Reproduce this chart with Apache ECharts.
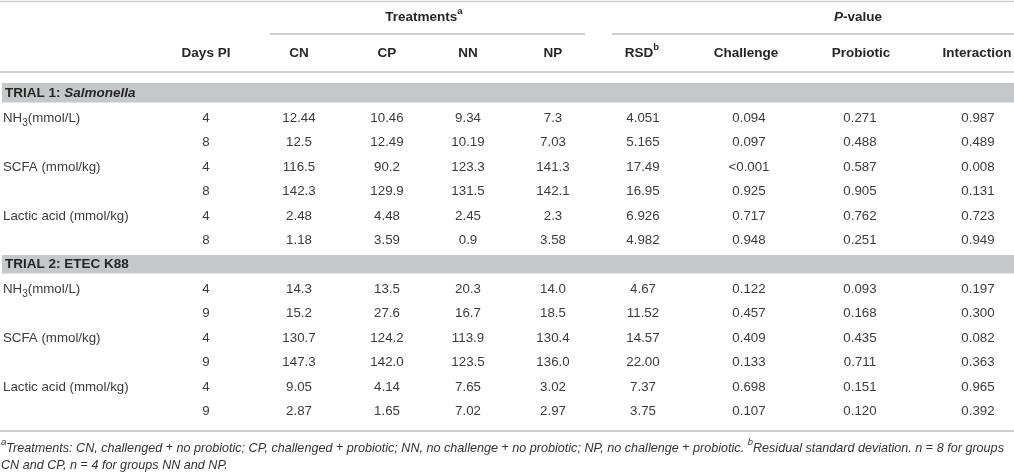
<!DOCTYPE html>
<html>
<head>
<meta charset="utf-8">
<script src="https://cdn.jsdelivr.net/npm/echarts@6/dist/echarts.min.js"></script>
<style>
  html, body { margin: 0; padding: 0; background: #fff; }
  #main { width: 1014px; height: 474px; }
</style>
</head>
<body>
<div id="main"></div>
<script>
// column headers
const treatCols = ['CN', 'CP', 'NN', 'NP']
const pCols = ['Challenge', 'Probiotic', 'Interaction']
const measures = ['NH{sub|3}(mmol/L)', 'SCFA (mmol/kg)', 'Lactic acid (mmol/kg)']

// trial 1: Salmonella
const trial1Days = ['4', '8', '4', '8', '4', '8']
const trial1Rows = [
  ['12.44', '10.46', '9.34', '7.3', '4.051', '0.094', '0.271', '0.987'],
  ['12.5', '12.49', '10.19', '7.03', '5.165', '0.097', '0.488', '0.489'],
  ['116.5', '90.2', '123.3', '141.3', '17.49', '<0.001', '0.587', '0.008'],
  ['142.3', '129.9', '131.5', '142.1', '16.95', '0.925', '0.905', '0.131'],
  ['2.48', '4.48', '2.45', '2.3', '6.926', '0.717', '0.762', '0.723'],
  ['1.18', '3.59', '0.9', '3.58', '4.982', '0.948', '0.251', '0.949']
]

// trial 2: ETEC K88
const trial2Days = ['4', '9', '4', '9', '4', '9']
const trial2Rows = [
  ['14.3', '13.5', '20.3', '14.0', '4.67', '0.122', '0.093', '0.197'],
  ['15.2', '27.6', '16.7', '18.5', '11.52', '0.457', '0.168', '0.300'],
  ['130.7', '124.2', '113.9', '130.4', '14.57', '0.409', '0.435', '0.082'],
  ['147.3', '142.0', '123.5', '136.0', '22.00', '0.133', '0.711', '0.363'],
  ['9.05', '4.14', '7.65', '3.02', '7.37', '0.698', '0.151', '0.965'],
  ['2.87', '1.65', '7.02', '2.97', '3.75', '0.107', '0.120', '0.392']
]

const footLine1 = '{sup|a}Treatments: CN, challenged {n|+} no probiotic; CP, challenged {n|+} probiotic; NN, no challenge {n|+} no probiotic; NP, no challenge {n|+} probiotic. {sup|b}Residual standard deviation. n {n|=} 8 for groups'
const footLine2 = 'CN and CP, n {n|=} 4 for groups NN and NP.'

// layout (pixels, through the hidden value axes)
const FONT = "'Liberation Sans', Arial, sans-serif"
const daysX = 206
const headX = [299, 387, 468, 553, 642, 746, 861, 977]
const valX = [299, 387, 468, 553, 643, 749, 860, 978]
const rowStep = 24.5
const trial1Y = 118
const trial2Y = 289

const cells = []
function add(x, y, text, kind, align) {
  cells.push({ x: x, y: y, text: text, kind: kind, align: align || 'center' })
}

// header
add(424, 17, 'Treatments{sup|a}', 'head')
add(858, 17, '{i|P}-value', 'head')
add(daysX, 53, 'Days PI', 'head')
treatCols.forEach((c, i) => add(headX[i], 53, c, 'head'))
add(headX[4], 53, 'RSD{sup|b}', 'head')
pCols.forEach((c, i) => add(headX[5 + i], 53, c, 'head'))

// body
add(5, 93, 'TRIAL 1: {bi|Salmonella}', 'head', 'left')
add(5, 264, 'TRIAL 2: ETEC K88', 'head', 'left')
;[[trial1Y, trial1Days, trial1Rows], [trial2Y, trial2Days, trial2Rows]].forEach(t => {
  t[2].forEach((row, r) => {
    const y = t[0] + r * rowStep
    if (r % 2 === 0) add(3, y, measures[r / 2], 'body', 'left')
    add(daysX, y, t[1][r], 'body')
    row.forEach((v, c) => add(valX[c], y, v, 'body'))
  })
})

add(1, 448, footLine1, 'foot', 'left')
add(1, 465, footLine2, 'foot', 'left')

// rules: [y, x1, x2, width]
const rules = [
  [1.5, 0, 1014, 1.5],
  [34, 270, 585, 2],
  [34, 612, 1014, 2],
  [72, 0, 1014, 2],
  [431, 0, 1014, 2]
]
// shaded bands: [y1, y2]
const bands = [
  [83, 102.5],
  [255, 273.5]
]

const richBase = {
  sub: { fontSize: 10, verticalAlign: 'bottom', padding: [0, 0, -4, 0] },
  sup: { fontSize: 9.5, verticalAlign: 'top', padding: [-4, 0, 0, 0] },
  i: { fontStyle: 'italic' },
  bi: { fontStyle: 'italic', fontWeight: 'bold' },
  n: { fontStyle: 'normal' }
}

function styleFor(kind) {
  if (kind === 'head') return { fontSize: 13.5, fontWeight: 'bold', fill: '#262626' }
  if (kind === 'foot') return { fontSize: 12.6, fontStyle: 'italic', fill: '#333' }
  return { fontSize: 13.3, fontWeight: 'normal', fill: '#3c3c3c' }
}

const chart = echarts.init(document.getElementById('main'))
chart.setOption({
  animation: false,
  grid: { left: 0, right: 0, top: 0, bottom: 0 },
  xAxis: { type: 'value', min: 0, max: 1014, show: false },
  yAxis: { type: 'value', min: 0, max: 474, inverse: true, show: false },
  series: [
    {
      type: 'custom',
      coordinateSystem: 'cartesian2d',
      data: bands.map(b => [0, b[0], 1014, b[1]]),
      renderItem: (params, api) => {
        const p1 = api.coord([api.value(0), api.value(1)])
        const p2 = api.coord([api.value(2), api.value(3)])
        return {
          type: 'rect',
          shape: { x: p1[0] + 2, y: p1[1], width: p2[0] - p1[0] - 2, height: p2[1] - p1[1] },
          style: { fill: '#c6c7c9' }
        }
      }
    },
    {
      type: 'custom',
      coordinateSystem: 'cartesian2d',
      data: rules.map(r => [r[1], r[0], r[2], r[3]]),
      renderItem: (params, api) => {
        const p1 = api.coord([api.value(0), api.value(1)])
        const p2 = api.coord([api.value(2), api.value(1)])
        return {
          type: 'line',
          shape: { x1: p1[0], y1: p1[1], x2: p2[0], y2: p2[1] },
          style: { stroke: '#cfcfcf', lineWidth: api.value(3) }
        }
      }
    },
    {
      type: 'custom',
      coordinateSystem: 'cartesian2d',
      data: cells.map(c => [c.x, c.y]),
      renderItem: (params, api) => {
        const c = cells[params.dataIndex]
        const p = api.coord([api.value(0), api.value(1)])
        const s = styleFor(c.kind)
        const rich = {}
        Object.keys(richBase).forEach(k => {
          rich[k] = Object.assign({
            fill: s.fill,
            fontFamily: FONT,
            fontSize: s.fontSize,
            fontWeight: s.fontWeight || 'normal',
            fontStyle: s.fontStyle || 'normal'
          }, richBase[k])
        })
        return {
          type: 'text',
          x: p[0],
          y: p[1],
          style: {
            text: c.text,
            fontFamily: FONT,
            fontSize: s.fontSize,
            fontWeight: s.fontWeight || 'normal',
            fontStyle: s.fontStyle || 'normal',
            fill: s.fill,
            align: c.align,
            verticalAlign: 'middle',
            rich: rich
          }
        }
      }
    }
  ]
})
</script>
</body>
</html>
